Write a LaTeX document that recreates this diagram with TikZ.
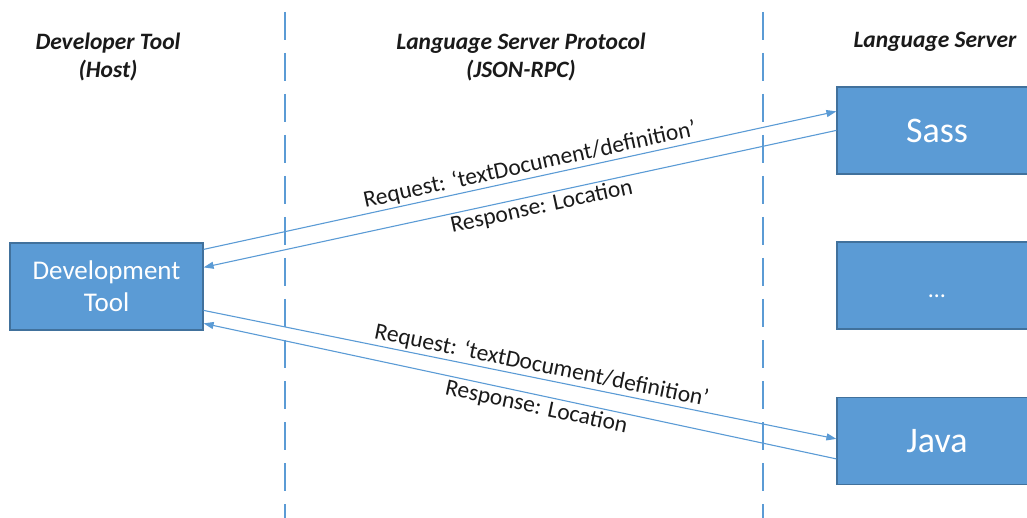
\documentclass[tikz,border=0pt]{standalone}
\usepackage{fontspec}
\setmainfont{Carlito}
\usetikzlibrary{arrows.meta,calc}
\definecolor{lspblue}{HTML}{5B9BD5}
\definecolor{lspedge}{HTML}{41719C}
\definecolor{lsptext}{HTML}{1A1A1A}
\begin{document}
\begin{tikzpicture}[x=1pt,y=-1pt,
  box/.style={draw=lspedge,line width=1.2pt,fill=lspblue,text=white,minimum height=87pt,inner sep=0pt,align=center,font=\fontsize{27}{32}\selectfont},
  bigbox/.style={box,font=\fontsize{36}{40}\selectfont},
  lane/.style={draw=lspblue,line width=2pt,dash pattern=on 28pt off 13pt},
  msg/.style={draw=lspblue,line width=1.1pt,-{Triangle[length=10pt,width=7pt]}},
  lbl/.style={sloped,text=lsptext,font=\fontsize{23.5}{27}\selectfont,inner sep=2pt},
  head/.style={text=lsptext,font=\fontsize{23.5}{28}\selectfont\bfseries\itshape,align=center}]
\useasboundingbox (0,0) rectangle (1027,518);
\clip (0,0) rectangle (1027,518);
% lanes
\coordinate (l1t) at (285,12); \coordinate (l1b) at (285,518);
\coordinate (l2t) at (763,12); \coordinate (l2b) at (763,518);
\draw[lane] (l1t) -- (l1b);
\draw[lane] (l2t) -- (l2b);
% headers
\node[head] (h1) at (108,57) {Developer Tool\\(Host)};
\node[head] (h2) at (521,57) {Language Server Protocol\\(JSON-RPC)};
\node[head] (h3) at (935,42) {Language Server};
% boxes
\node[box,minimum width=193pt] (dev) at (106.5,286.5) {Development\\Tool};
\node[bigbox,minimum width=200pt] (sass) at (937,130.5) {Sass};
\node[box,minimum width=200pt] (dots) at (937,285.5) {};
\node[text=white,font=\fontsize{24}{28}\selectfont,inner sep=0pt] (dotstxt) at ($(dots.center)+(0,11)$) {\ldots};
\node[bigbox,minimum width=200pt] (java) at (937,441) {Java};
% messages
\draw[msg] ($(dev.north east)+(0,7)$) -- node[lbl,above,pos=0.52] {Request: ‘textDocument/definition’} ($(sass.north west)+(0,25)$);
\draw[msg] ($(sass.north west)+(0,44)$) -- node[lbl,below,pos=0.47] {Response: Location} ($(dev.north east)+(0,25)$);
\draw[msg] ($(dev.north east)+(0,68)$) -- node[lbl,above,pos=0.53] {Request: ‘textDocument/definition’} ($(java.north west)+(0,42)$);
\draw[msg] ($(java.north west)+(0,62)$) -- node[lbl,below,pos=0.47] {Response: Location} ($(dev.north east)+(0,81)$);
\end{tikzpicture}
\end{document}
